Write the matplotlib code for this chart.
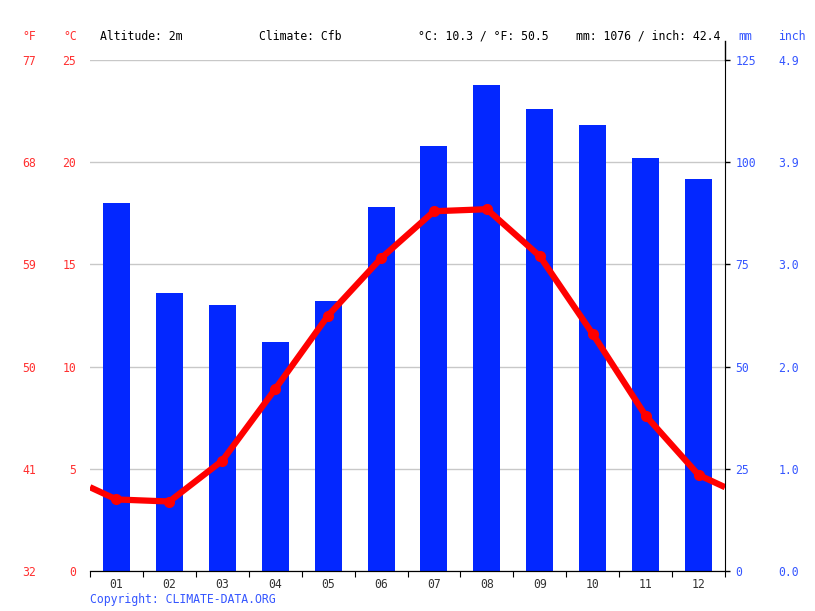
import matplotlib
matplotlib.use('Agg')
import matplotlib.pyplot as plt
from matplotlib.lines import Line2D
import numpy as np

# climate data
months = ['01', '02', '03', '04', '05', '06', '07', '08', '09', '10', '11', '12']
temp_c = [3.5, 3.4, 5.4, 8.9, 12.5, 15.3, 17.6, 17.7, 15.4, 11.6, 7.6, 4.7]
precip_mm = [90, 68, 65, 56, 66, 89, 104, 119, 113, 109, 101, 96]
altitude = '2m'
climate = 'Cfb'

c_ticks = [0, 5, 10, 15, 20, 25]
f_ticks = [32, 41, 50, 59, 68, 77]
mm_ticks = [0, 25, 50, 75, 100, 125]

RED = '#ff0000'
RED_TXT = '#ff3030'
BLUE = '#0327ff'
BLUE_TXT = '#3556ff'

plt.rcParams['font.family'] = 'DejaVu Sans Mono'
plt.rcParams['font.size'] = 8.3

fig = plt.figure(figsize=(8.15, 6.11), dpi=100)
ax = fig.add_axes([90 / 815, 40 / 611, 635 / 815, 511 / 611])
ax_mm = ax.twinx()
ax.set_zorder(ax_mm.get_zorder() + 1)
ax.patch.set_visible(False)

x = np.arange(len(months)) + 0.5

# precipitation bars + grid on the mm axis
ax_mm.bar(x, precip_mm, width=0.51, color=BLUE, zorder=2)
ax_mm.set_ylim(0, 125)
ax_mm.set_yticks(mm_ticks)
ax_mm.yaxis.grid(True, color='#c8c8c8', lw=1)
ax_mm.set_axisbelow(True)
ax_mm.tick_params(axis='y', colors=BLUE_TXT, length=3.5, pad=4, width=1)
ax_mm.tick_params(axis='y', color='black')
for s in ['left', 'top']:
    ax_mm.spines[s].set_visible(False)
ax_mm.spines['right'].set_color('black')

# temperature line, wrapped at the edges
edge = (temp_c[0] + temp_c[-1]) / 2
lx = np.concatenate([[0], x, [12]])
ly = np.concatenate([[edge], temp_c, [edge]])
ax.plot(lx, ly, color=RED, lw=4.5, solid_capstyle='butt', zorder=3)
ax.plot(x, temp_c, 'o', color=RED, ms=7, zorder=4)

ax.set_xlim(0, 12)
ax.set_ylim(0, 25)
ax.set_yticks(c_ticks)
ax.tick_params(axis='y', colors=RED_TXT, length=0, pad=10)
ax.set_xticks(range(13))
ax.set_xticklabels([])
ax.set_xticks(x, minor=True)
ax.set_xticklabels(months, minor=True, color='#333333')
ax.tick_params(axis='x', which='major', length=4, color='black')
ax.tick_params(axis='x', which='minor', length=0, pad=5)
for s in ['left', 'top', 'right']:
    ax.spines[s].set_visible(False)
ax.spines['bottom'].set_color('black')

# fahrenheit on the far left
sec_f = ax.secondary_yaxis(-0.085, functions=(lambda c: c * 1.8 + 32, lambda f: (f - 32) / 1.8))
sec_f.set_yticks(f_ticks)
sec_f.tick_params(colors=RED_TXT, length=0, pad=0)
sec_f.spines['left'].set_visible(False)

# inches on the far right
sec_in = ax_mm.secondary_yaxis(1.08)
sec_in.set_yticks(mm_ticks, labels=['%.1f' % (m / 25.4) for m in mm_ticks])
sec_in.tick_params(colors=BLUE_TXT, length=0, pad=2)
sec_in.spines['right'].set_visible(False)

# right spine runs up into the header
pos = ax.get_position()
fig.add_artist(Line2D([pos.x1, pos.x1], [pos.y1, 1 - 41 / 611], color='black', lw=1,
                      transform=fig.transFigure))

# header
yh = 1 - 36 / 611
mean_c = np.mean(temp_c)
total_mm = sum(precip_mm)
fig.text(36 / 815, yh, '°F', color=RED_TXT, ha='right', va='center')
fig.text(77 / 815, yh, '°C', color=RED_TXT, ha='right', va='center')
fig.text(100 / 815, yh, 'Altitude: ' + altitude, ha='left', va='center')
fig.text(259 / 815, yh, 'Climate: ' + climate, ha='left', va='center')
fig.text(418 / 815, yh, '°C: %.1f / °F: %.1f' % (mean_c, mean_c * 1.8 + 32), ha='left', va='center')
fig.text(576 / 815, yh, 'mm: %d / inch: %.1f' % (total_mm, total_mm / 25.4), ha='left', va='center')
fig.text(738 / 815, yh, 'mm', color=BLUE_TXT, ha='left', va='center')
fig.text(778 / 815, yh, 'inch', color=BLUE_TXT, ha='left', va='center')

fig.text(90 / 815, 1 - 599 / 611, 'Copyright: CLIMATE-DATA.ORG', color=BLUE_TXT, ha='left', va='center')

fig.savefig('out.png', dpi=100)
